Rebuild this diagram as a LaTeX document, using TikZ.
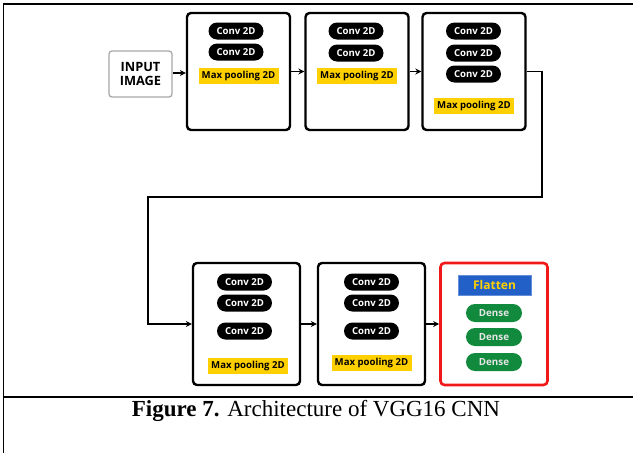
\documentclass[tikz,border=0pt]{standalone}
\usepackage{fontspec}
\setmainfont{Liberation Serif}
\newfontfamily\lblfont{Open Sans}
\usetikzlibrary{arrows.meta}
\definecolor{poolyellow}{HTML}{FFD000}
\definecolor{flatblue}{HTML}{2260C8}
\definecolor{flattext}{HTML}{FFD000}
\definecolor{densegreen}{HTML}{128A3E}
\definecolor{densetext}{HTML}{E6E6E6}
\definecolor{framered}{HTML}{F01818}
\definecolor{inputgray}{HTML}{A8A8A8}
\tikzset{
  blk/.style={draw=black, line width=2.4pt, rounded corners=4pt, fill=white,
    minimum width=103pt, minimum height=117pt, inner sep=0pt},
  lowblk/.style={blk, minimum width=107pt, minimum height=122pt},
  headblk/.style={lowblk, draw=framered, line width=2.6pt},
  inbox/.style={draw=inputgray, line width=1.3pt, rounded corners=3pt,
    minimum width=63pt, minimum height=46pt, align=center,
    font=\lblfont\bfseries\fontsize{12.8}{14.5}\selectfont, inner sep=0pt},
  conv/.style={fill=black, text=white, rounded corners=8.5pt,
    minimum width=55pt, minimum height=17pt, inner sep=0pt,
    font=\lblfont\bfseries\fontsize{9.6}{11}\selectfont},
  pool/.style={fill=poolyellow, text=black, minimum width=80pt,
    minimum height=16pt, inner sep=0pt,
    font=\lblfont\bfseries\fontsize{9.6}{11}\selectfont},
  flat/.style={fill=flatblue, draw=flatblue!70!white, line width=0.6pt,
    text=flattext, minimum width=73pt, minimum height=20pt, inner sep=0pt,
    font=\lblfont\bfseries\fontsize{12}{14}\selectfont},
  dense/.style={fill=densegreen, text=densetext, rounded corners=9pt,
    minimum width=56pt, minimum height=18pt, inner sep=0pt,
    font=\lblfont\bfseries\fontsize{9.8}{11}\selectfont},
  link/.style={draw=black, line width=1.4pt},
  arr/.style={link, -{Stealth[length=6pt,width=6pt]}},
  rule/.style={draw=black, line width=1.6pt}
}
\begin{document}
\begin{tikzpicture}[x=1pt, y=-1pt]
\useasboundingbox (0,0) rectangle (633,453);

% page frame and caption rule
\draw[rule] (3.5,3) -- (3.5,453);
\draw[rule] (3,4) -- (633,4);
\draw[rule] (3,397) -- (633,397);

% input
\node[inbox] (in) at (140.5,74) {INPUT\\IMAGE};

% first row of convolution blocks
\node[blk] (b1) at (238.5,71.5) {};
\node[conv] (c11) at (236,31) {Conv 2D};
\node[conv] (c12) at (236,52) {Conv 2D};
\node[pool] (p1) at (238.5,76) {Max pooling 2D};

\node[blk] (b2) at (357,71.5) {};
\node[conv] (c21) at (356,31) {Conv 2D};
\node[conv] (c22) at (356,53) {Conv 2D};
\node[pool] (p2) at (357,76) {Max pooling 2D};

\node[blk] (b3) at (474,71.5) {};
\node[conv] (c31) at (473.5,31) {Conv 2D};
\node[conv] (c32) at (473.5,53) {Conv 2D};
\node[conv] (c33) at (473.5,74) {Conv 2D};
\node[pool] (p3) at (474,106) {Max pooling 2D};

% second row
\node[lowblk] (b4) at (246.5,324) {};
\node[conv] (c41) at (244.5,282) {Conv 2D};
\node[conv] (c42) at (244.5,303) {Conv 2D};
\node[conv] (c43) at (244.5,331) {Conv 2D};
\node[pool] (p4) at (248,366) {Max pooling 2D};

\node[lowblk] (b5) at (371.5,324) {};
\node[conv] (c51) at (371.5,282) {Conv 2D};
\node[conv] (c52) at (371.5,303) {Conv 2D};
\node[conv] (c53) at (371.5,331) {Conv 2D};
\node[pool] (p5) at (371.5,363) {Max pooling 2D};

\node[headblk] (b6) at (494,324) {};
\node[flat] (fl) at (494.5,285) {Flatten};
\node[dense] (d1) at (494,313) {Dense};
\node[dense] (d2) at (494,337) {Dense};
\node[dense] (d3) at (494,362) {Dense};

% connectors
\draw[arr] (in.east |- 0,73) -- (b1.west |- 0,73);
\draw[arr] (b1.east) -- (b2.west);
\draw[arr] (b2.east) -- (b3.west);
\coordinate (t1) at (542,71.5);
\coordinate (t2) at (148,197);
\draw[arr] (b3.east) -- (t1) |- (t2) |- (b4.west);
\draw[arr] (b4.east) -- (b5.west);
\draw[arr] (b5.east) -- (b6.west);

% caption
\node[font=\fontsize{23}{26}\selectfont] (cap) at (316,411)
  {\textbf{Figure 7.} Architecture of VGG16 CNN};
\end{tikzpicture}
\end{document}
